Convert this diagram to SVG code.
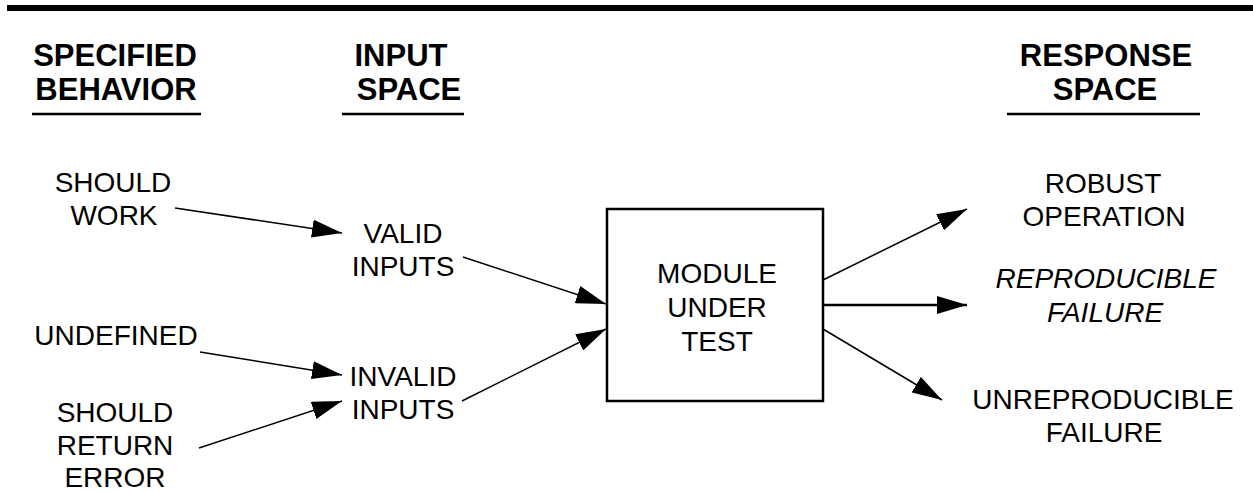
<svg xmlns="http://www.w3.org/2000/svg" width="1253" height="492" viewBox="0 0 1253 492">
  <style>
    text { font-family: "Liberation Sans", Arial, sans-serif; fill: #000; text-anchor: middle; }
    .hdr { font-size: 31px; font-weight: bold; }
    .lbl { font-size: 28px; }
    .it { font-style: italic; }
    .rule { stroke: #000; stroke-width: 2.5; }
    .conn { stroke: #000; stroke-width: 1.5; fill: none; marker-end: url(#arrow); }
    .box { fill: #fff; stroke: #000; stroke-width: 2.5; }
  </style>
  <defs>
    <marker id="arrow" viewBox="0 0 30 18" refX="30" refY="9" markerWidth="30" markerHeight="18" markerUnits="userSpaceOnUse" orient="auto">
      <path d="M0,0 L30,9 L0,18 z" fill="#000"/>
    </marker>
  </defs>
  <rect x="7" y="5" width="1246" height="6" fill="#000"/>
  <g id="headers">
    <text class="hdr" x="115" y="66">SPECIFIED</text>
    <text class="hdr" x="116" y="100">BEHAVIOR</text>
    <line class="rule" x1="32" y1="114" x2="201" y2="114"/>
    <text class="hdr" x="401" y="66">INPUT</text>
    <text class="hdr" x="409" y="100">SPACE</text>
    <line class="rule" x1="342" y1="114" x2="464" y2="114"/>
    <text class="hdr" x="1106" y="66">RESPONSE</text>
    <text class="hdr" x="1105" y="100">SPACE</text>
    <line class="rule" x1="1007" y1="114" x2="1200" y2="114"/>
  </g>
  <g id="connectors">
    <line class="conn" x1="175" y1="208" x2="342" y2="233"/>
    <line class="conn" x1="200" y1="352" x2="342" y2="375"/>
    <line class="conn" x1="199" y1="448" x2="342" y2="401"/>
    <line class="conn" x1="463" y1="257" x2="606" y2="304"/>
    <line class="conn" x1="462" y1="401" x2="606" y2="329"/>
    <line class="conn" x1="823" y1="280" x2="967" y2="209"/>
    <line class="conn" x1="823" y1="305" x2="967" y2="305" style="stroke-width:2.5"/>
    <line class="conn" x1="823" y1="329" x2="942" y2="400"/>
  </g>
  <g id="should-work">
    <text class="lbl" x="113" y="192">SHOULD</text>
    <text class="lbl" x="114" y="225">WORK</text>
  </g>
  <g id="undefined">
    <text class="lbl" x="116" y="345">UNDEFINED</text>
  </g>
  <g id="should-return-error">
    <text class="lbl" x="115" y="422">SHOULD</text>
    <text class="lbl" x="115" y="455">RETURN</text>
    <text class="lbl" x="115" y="487">ERROR</text>
  </g>
  <g id="valid-inputs">
    <text class="lbl" x="403" y="243">VALID</text>
    <text class="lbl" x="403" y="276">INPUTS</text>
  </g>
  <g id="invalid-inputs">
    <text class="lbl" x="403" y="386">INVALID</text>
    <text class="lbl" x="403" y="419">INPUTS</text>
  </g>
  <g id="module-under-test">
    <rect class="box" x="607" y="209" width="216" height="192"/>
    <text class="lbl" x="717" y="283">MODULE</text>
    <text class="lbl" x="717" y="317">UNDER</text>
    <text class="lbl" x="717" y="351">TEST</text>
  </g>
  <g id="robust-operation">
    <text class="lbl" x="1103" y="193">ROBUST</text>
    <text class="lbl" x="1104" y="226">OPERATION</text>
  </g>
  <g id="reproducible-failure">
    <text class="lbl it" x="1106" y="288">REPRODUCIBLE</text>
    <text class="lbl it" x="1105" y="322">FAILURE</text>
  </g>
  <g id="unreproducible-failure">
    <text class="lbl" x="1103" y="409">UNREPRODUCIBLE</text>
    <text class="lbl" x="1104" y="442">FAILURE</text>
  </g>
</svg>
